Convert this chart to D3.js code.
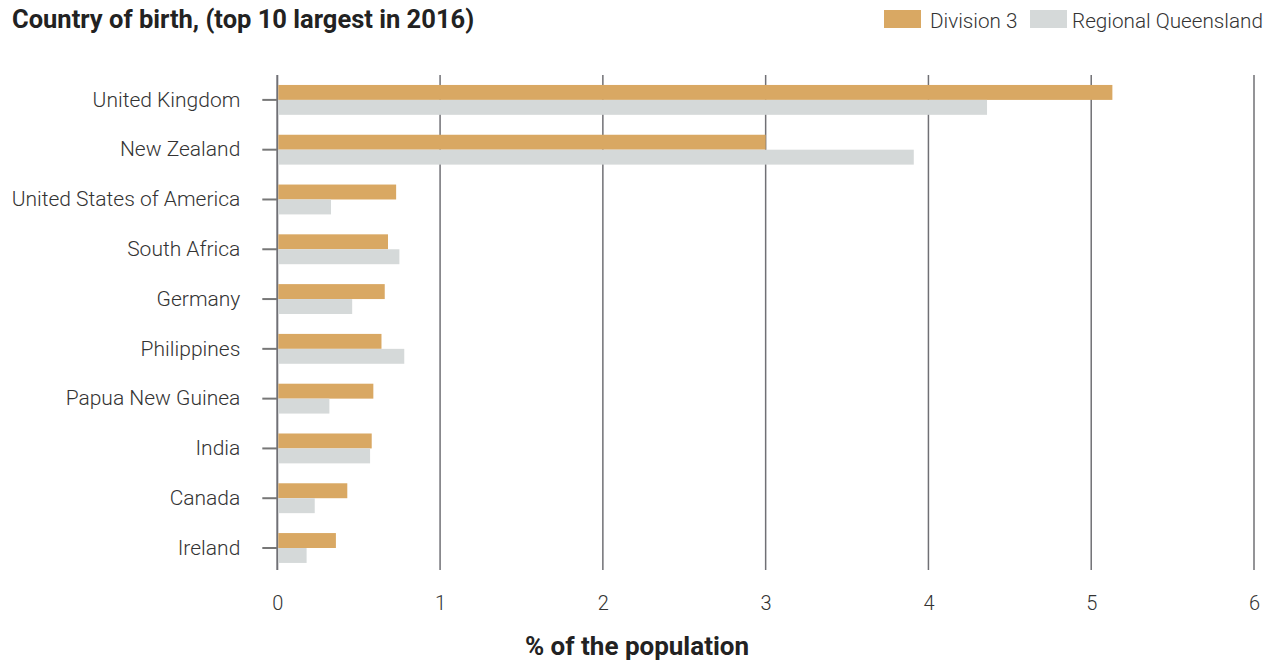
<!DOCTYPE html>
<html>
<head>
<meta charset="utf-8">
<script src="https://cdn.jsdelivr.net/npm/d3@7"></script>
<style>
  html, body { margin: 0; padding: 0; background: #fff; }
  svg { display: block; font-family: Roboto, "Noto Sans", sans-serif; }
</style>
</head>
<body>
<svg id="chart" width="1277" height="663"></svg>
<script>
const categories = ["United Kingdom", "New Zealand", "United States of America", "South Africa", "Germany", "Philippines", "Papua New Guinea", "India", "Canada", "Ireland"];
const seriesNames = ["Division 3", "Regional Queensland"];
const division3 = [5.13, 3.0, 0.73, 0.68, 0.66, 0.64, 0.59, 0.58, 0.43, 0.36];
const regionalQld = [4.36, 3.91, 0.33, 0.75, 0.46, 0.78, 0.32, 0.57, 0.23, 0.18];
const xTicks = [0, 1, 2, 3, 4, 5, 6];
const colors = ["#D9A863", "#D5D9D9"];

const svg = d3.select("#chart");
const plotLeft = 277.3, plotRight = 1254, plotTop = 75, plotBottom = 572.9, gridBottom = 570;

const x = d3.scaleLinear().domain([0, 6]).range([plotLeft, plotRight]);
const y = d3.scaleBand().domain(categories).range([plotTop, plotBottom]).paddingInner(0.4).paddingOuter(0.2);
const ySub = d3.scaleBand().domain(seriesNames).range([0, y.bandwidth()]);

// grid lines
svg.append("g").selectAll("line").data(xTicks).join("line")
  .attr("x1", d => x(d)).attr("x2", d => x(d))
  .attr("y1", plotTop).attr("y2", gridBottom)
  .attr("stroke", "#707075").attr("stroke-width", d => d === 0 ? 2 : 1.5);

// x labels
const xAxis = svg.append("g").attr("transform", `translate(0,${gridBottom})`)
  .call(d3.axisBottom(x).tickValues(xTicks).tickSize(0).tickPadding(26).tickFormat(d3.format("d")));
xAxis.select(".domain").remove();
xAxis.selectAll("text").attr("font-size", 20).attr("fill", "#333").attr("font-family", "Roboto").attr("font-weight", 300);

// y axis
const yAxis = svg.append("g").attr("transform", `translate(${plotLeft},0)`)
  .call(d3.axisLeft(y).tickSizeInner(15).tickSizeOuter(0).tickPadding(22));
yAxis.select(".domain").remove();
yAxis.selectAll(".tick line").attr("stroke", "#777").attr("stroke-width", 2);
yAxis.selectAll("text").attr("font-size", 21).attr("fill", "#333").attr("font-family", "Roboto").attr("font-weight", 300);

// bars
const rows = categories.map((c, i) => ({ c, vals: [division3[i], regionalQld[i]] }));
const groups = svg.append("g").selectAll("g").data(rows).join("g")
  .attr("transform", d => `translate(0,${y(d.c)})`);
groups.selectAll("rect").data(d => d.vals.map((v, j) => ({ v, s: seriesNames[j], j }))).join("rect")
  .attr("x", x(0) + 1)
  .attr("y", d => ySub(d.s))
  .attr("width", d => x(d.v) - x(0) - 1)
  .attr("height", ySub.bandwidth())
  .attr("fill", d => colors[d.j]);

// title
svg.append("text").attr("x", 12).attr("y", 28)
  .attr("font-size", 25.5).attr("font-weight", 700).attr("fill", "#222")
  .text("Country of birth, (top 10 largest in 2016)");

// axis title
svg.append("text").attr("x", 637).attr("y", 655).attr("text-anchor", "middle")
  .attr("font-size", 26).attr("font-weight", 700).attr("fill", "#222")
  .text("% of the population");

// legend
const legendX = [884, 1030];
const legend = svg.append("g").selectAll("g").data(seriesNames).join("g")
  .attr("transform", (d, i) => `translate(${legendX[i]},10)`);
legend.append("rect").attr("width", 37).attr("height", 18).attr("fill", (d, i) => colors[i]);
legend.append("text").attr("x", (d, i) => i === 0 ? 46 : 42).attr("y", 17.5)
  .attr("font-size", 20.7).attr("font-weight", 300).attr("fill", "#333").text(d => d);
</script>
</body>
</html>
